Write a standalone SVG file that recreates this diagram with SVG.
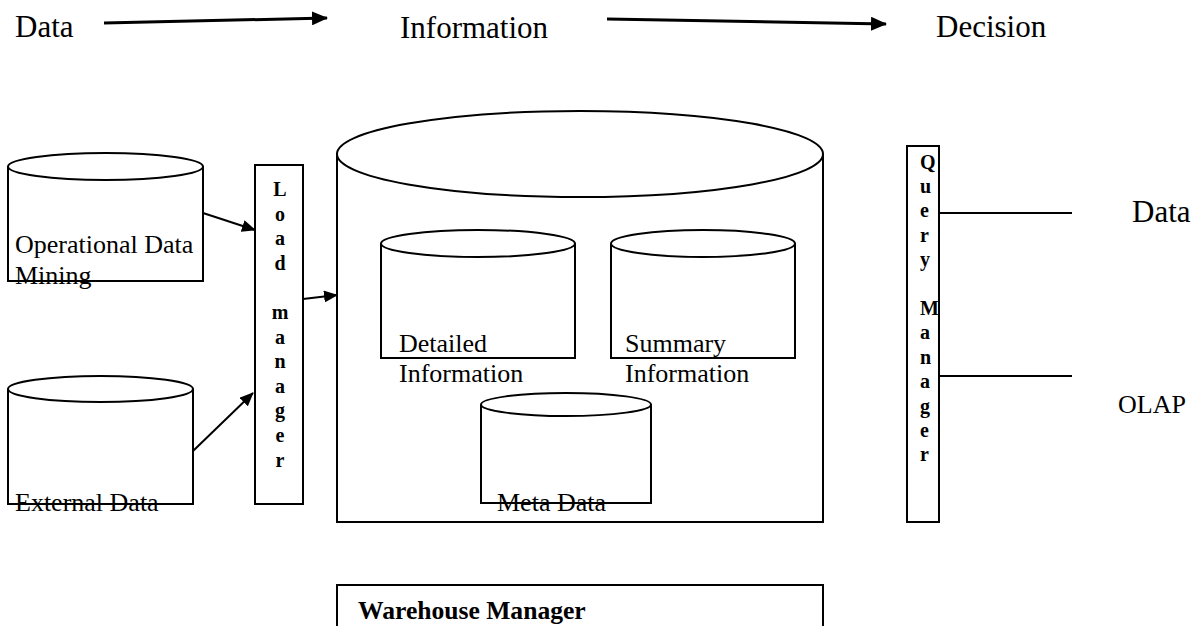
<svg xmlns="http://www.w3.org/2000/svg" width="1198" height="626" viewBox="0 0 1198 626">
<defs>
<marker id="ah" markerWidth="14" markerHeight="12" refX="13" refY="6" orient="auto" markerUnits="userSpaceOnUse">
<path d="M0,0 L14,6 L0,12 Z" fill="#000"/>
</marker>
<marker id="ahs" markerWidth="16" markerHeight="14" refX="15" refY="7" orient="auto" markerUnits="userSpaceOnUse">
<path d="M0,0 L16,7 L0,14 Z" fill="#000"/>
</marker>
<style>
.t{font-family:"Liberation Serif","Times New Roman",serif;fill:#000}
.top{font-size:31px}
.lbl{font-size:26px}
.vb{font-size:20px;font-weight:bold}
.s{fill:#fff;stroke:#000;stroke-width:2}
.c{stroke:#000;stroke-width:2;fill:none}
.c3{stroke:#000;stroke-width:3;fill:none}
</style>
</defs>
<rect width="1198" height="626" fill="#fff"/>

<g id="top-flow">
<text class="t top" x="15" y="37">Data</text>
<text class="t top" x="400" y="38">Information</text>
<text class="t top" x="936" y="37">Decision</text>
</g>

<g id="operational-data">
<path class="s" d="M8,166.5 V281 H203 V166.5"/>
<ellipse class="s" cx="105.5" cy="166.5" rx="97.5" ry="13.5"/>
<text class="t lbl" x="15" y="253">Operational Data</text>
<text class="t lbl" x="15" y="284">Mining</text>
</g>

<g id="external-data">
<path class="s" d="M8,389 V504 H193 V389"/>
<ellipse class="s" cx="100.5" cy="389" rx="92.5" ry="13"/>
<text class="t lbl" x="15" y="511">External Data</text>
</g>

<g id="load-manager">
<rect class="s" x="255" y="165" width="48" height="339"/>
<text class="t vb" text-anchor="middle">
<tspan x="280" y="196">L</tspan><tspan x="280" y="220.6">o</tspan><tspan x="280" y="245.2">a</tspan><tspan x="280" y="269.8">d</tspan><tspan x="280" y="319">m</tspan><tspan x="280" y="343.6">a</tspan><tspan x="280" y="368.2">n</tspan><tspan x="280" y="392.8">a</tspan><tspan x="280" y="417.4">g</tspan><tspan x="280" y="442">e</tspan><tspan x="280" y="466.6">r</tspan>
</text>
</g>

<g id="warehouse">
<path class="s" d="M337,154 V522 H823 V154"/>
<ellipse class="s" cx="580" cy="154" rx="243" ry="43"/>
</g>

<g id="detailed-information">
<path class="s" d="M381,243.5 V358 H575 V243.5"/>
<ellipse class="s" cx="478" cy="243.5" rx="97" ry="13.5"/>
<text class="t lbl" x="399" y="352">Detailed</text>
<text class="t lbl" x="399" y="382">Information</text>
</g>

<g id="summary-information">
<path class="s" d="M611,243.5 V358 H795 V243.5"/>
<ellipse class="s" cx="703" cy="243.5" rx="92" ry="13.5"/>
<text class="t lbl" x="625" y="352">Summary</text>
<text class="t lbl" x="625" y="382">Information</text>
</g>

<g id="meta-data">
<path class="s" d="M481,404.5 V503 H651 V404.5"/>
<ellipse class="s" cx="566" cy="404.5" rx="85" ry="11.5"/>
<text class="t lbl" x="497" y="511">Meta Data</text>
</g>

<g id="query-manager">
<rect class="s" x="907" y="146" width="32" height="376"/>
<text class="t vb">
<tspan x="920" y="168.6">Q</tspan><tspan x="920" y="193">u</tspan><tspan x="920" y="217.4">e</tspan><tspan x="920" y="241.8">r</tspan><tspan x="920" y="266.2">y</tspan><tspan x="920" y="315">M</tspan><tspan x="920" y="339.4">a</tspan><tspan x="920" y="363.8">n</tspan><tspan x="920" y="388.2">a</tspan><tspan x="920" y="412.6">g</tspan><tspan x="920" y="437">e</tspan><tspan x="920" y="461.4">r</tspan>
</text>
</g>

<g id="outputs">
<text class="t top" x="1132" y="222">Data</text>
<text class="t lbl" x="1118" y="413">OLAP</text>
</g>

<g id="warehouse-manager">
<rect class="s" x="337" y="585" width="486" height="60"/>
<text class="t" x="358" y="619" font-size="25.6" font-weight="bold">Warehouse Manager</text>
</g>

<g id="connectors">
<line class="c3" x1="104" y1="23" x2="327" y2="18" marker-end="url(#ahs)"/>
<line class="c3" x1="607" y1="19" x2="886" y2="24" marker-end="url(#ahs)"/>
<line class="c" x1="203" y1="213" x2="255" y2="230" marker-end="url(#ah)"/>
<line class="c" x1="193" y1="451" x2="253" y2="393" marker-end="url(#ah)"/>
<line class="c" x1="303" y1="299" x2="337" y2="295" marker-end="url(#ah)"/>
<line class="c" x1="939" y1="213" x2="1072" y2="213"/>
<line class="c" x1="939" y1="376" x2="1072" y2="376"/>
</g>
</svg>
